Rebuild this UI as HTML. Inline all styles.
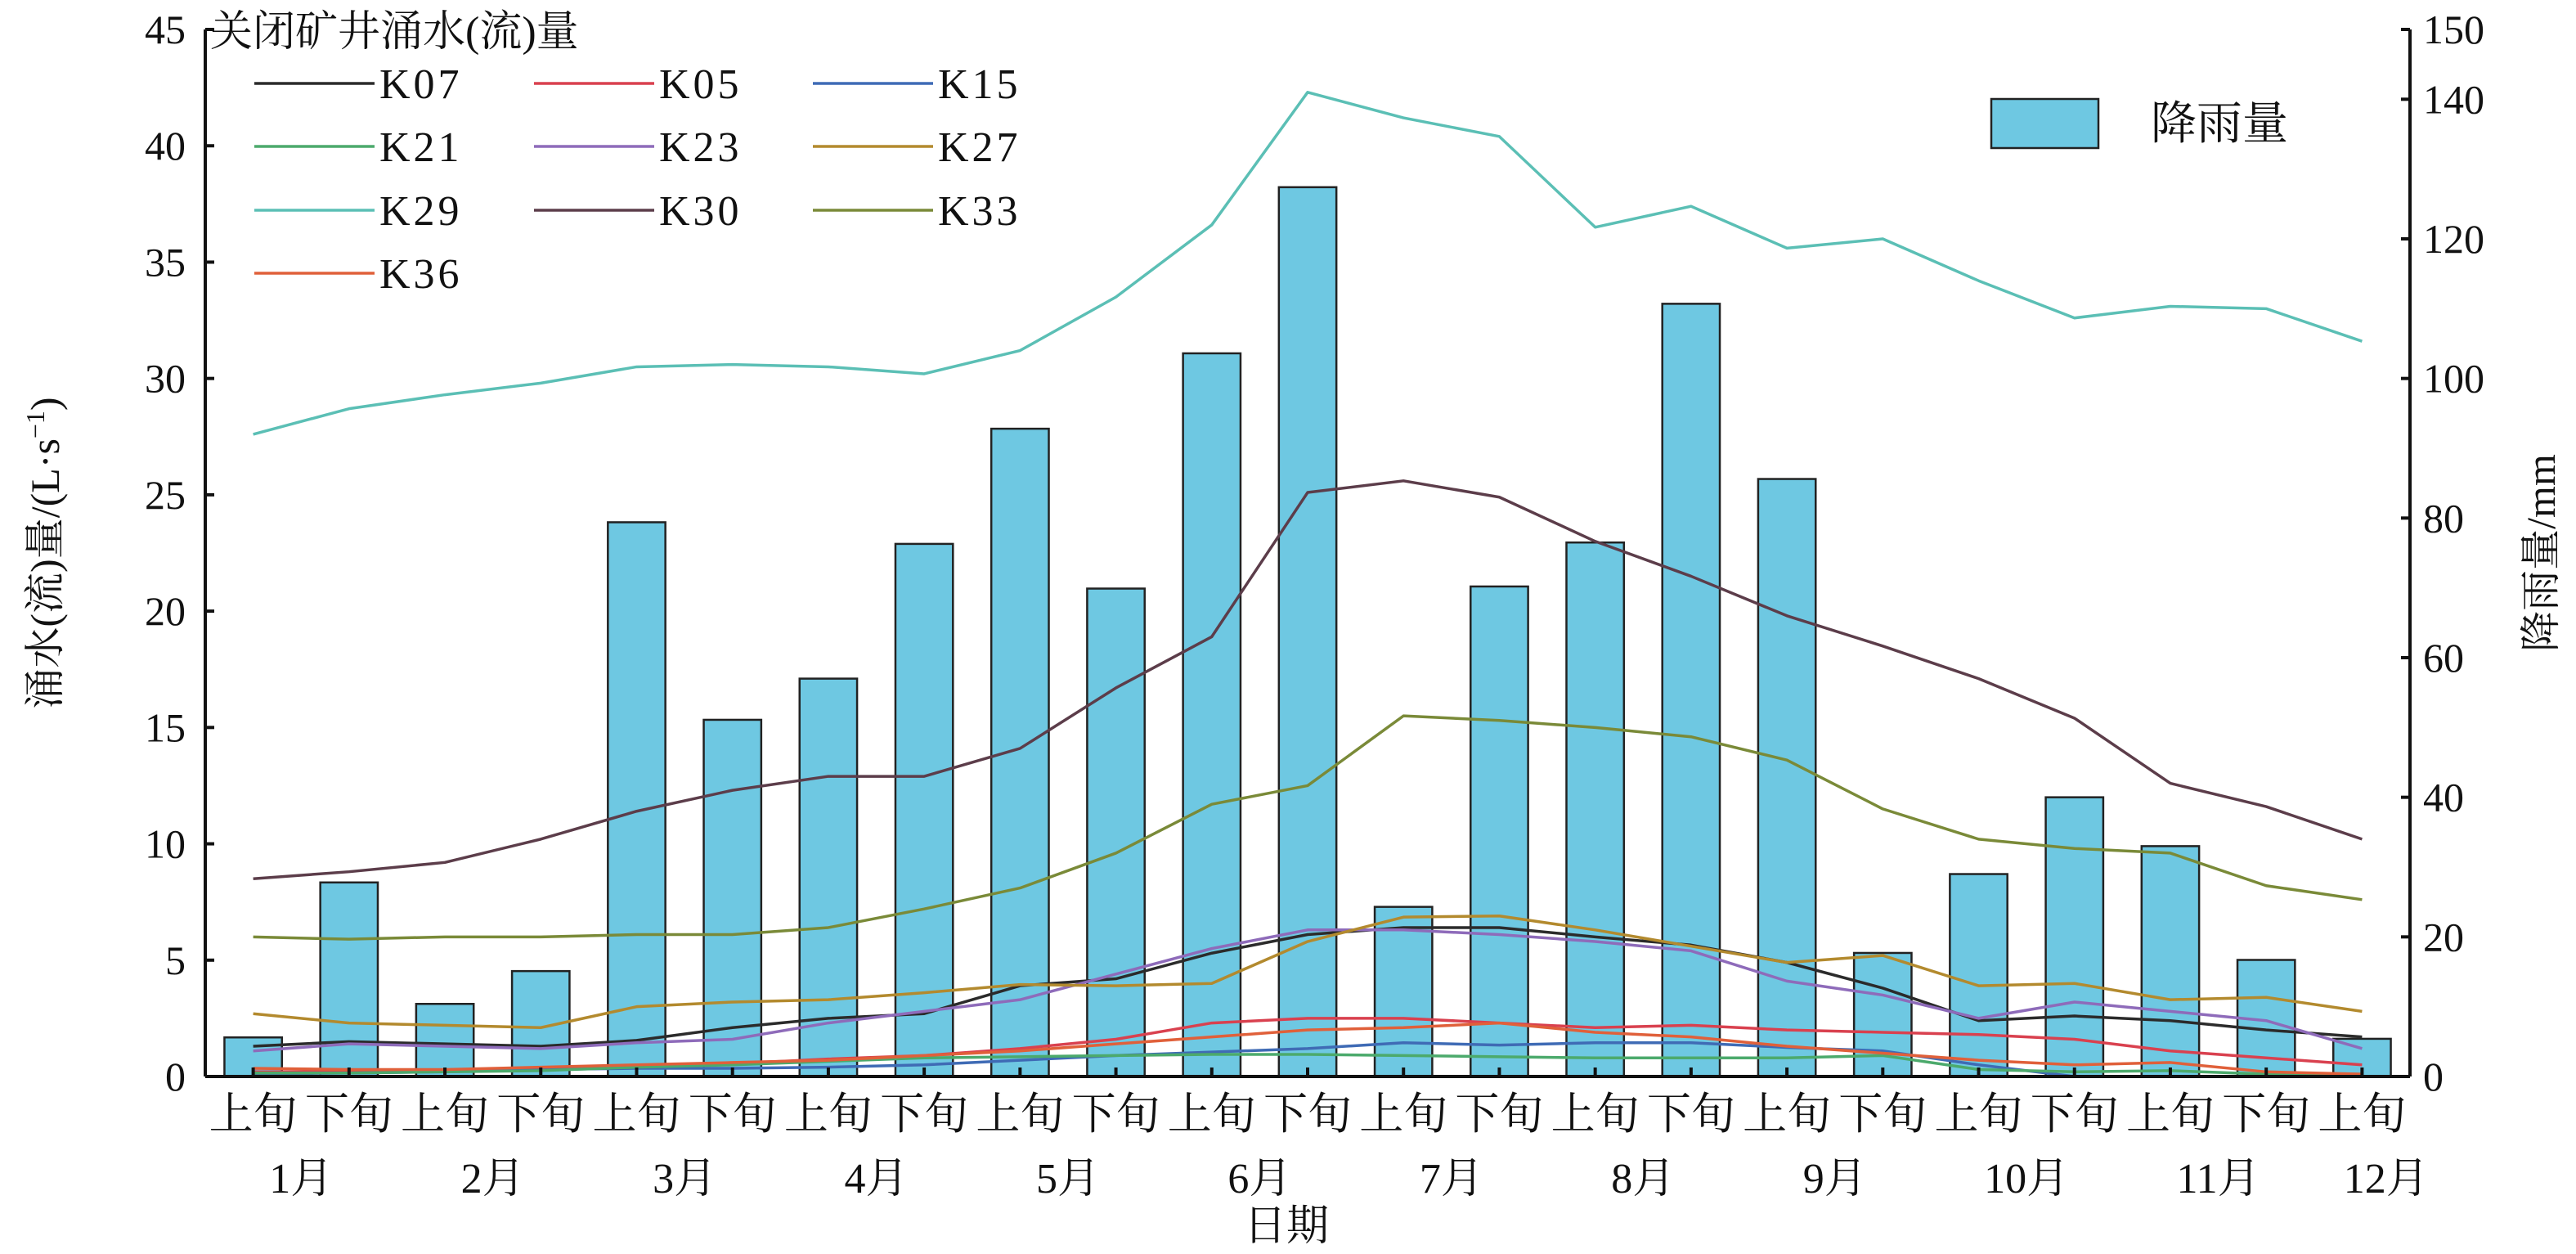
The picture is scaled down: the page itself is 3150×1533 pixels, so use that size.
<!DOCTYPE html>
<html><head><meta charset="utf-8">
<style>
html,body{margin:0;padding:0;background:#fff;}
svg{display:block;}
text{font-family:"Liberation Serif","Noto Serif CJK SC",serif;fill:#111;}
</style></head>
<body>
<svg id="chart" width="3150" height="1533" viewBox="0 0 3150 1533" xmlns="http://www.w3.org/2000/svg"></svg>
<script>
const categories = ["上旬","下旬","上旬","下旬","上旬","下旬","上旬","下旬","上旬","下旬","上旬","下旬","上旬","下旬","上旬","下旬","上旬","下旬","上旬","下旬","上旬","下旬","上旬"];
const months = ["1月","2月","3月","4月","5月","6月","7月","8月","9月","10月","11月","12月"];
const rainfall = [5.6,27.8,10.4,15.1,79.4,51.1,57.0,76.3,92.8,69.9,103.6,127.4,24.3,70.2,76.5,110.7,85.6,17.7,29.0,40.0,33.0,16.7,5.4];
const K07 = [1.3,1.5,1.4,1.3,1.55,2.1,2.5,2.7,3.9,4.2,5.3,6.1,6.4,6.4,6.0,5.65,4.9,3.8,2.4,2.6,2.4,2.0,1.7];
const K05 = [0.2,0.2,0.25,0.35,0.45,0.55,0.75,0.9,1.2,1.6,2.3,2.5,2.5,2.3,2.1,2.2,2.0,1.9,1.8,1.6,1.1,0.8,0.5];
const K15 = [0.1,0.15,0.2,0.3,0.35,0.35,0.4,0.5,0.7,0.9,1.05,1.2,1.45,1.35,1.45,1.45,1.25,1.1,0.5,0.0,0.0,0.0,0.0];
const K21 = [0.15,0.15,0.2,0.25,0.4,0.5,0.65,0.8,0.85,0.9,0.95,0.95,0.9,0.85,0.8,0.8,0.8,0.9,0.3,0.2,0.25,0.1,0.1];
const K23 = [1.1,1.4,1.3,1.2,1.45,1.6,2.3,2.8,3.3,4.4,5.5,6.3,6.3,6.1,5.8,5.4,4.1,3.5,2.5,3.2,2.8,2.4,1.2];
const K27 = [2.7,2.3,2.2,2.1,3.0,3.2,3.3,3.6,3.95,3.9,4.0,5.8,6.85,6.9,6.3,5.6,4.9,5.2,3.9,4.0,3.3,3.4,2.8];
const K29 = [27.6,28.7,29.3,29.8,30.5,30.6,30.5,30.2,31.2,33.5,36.6,42.3,41.2,40.4,36.5,37.4,35.6,36.0,34.2,32.6,33.1,33.0,31.6];
const K30 = [8.5,8.8,9.2,10.2,11.4,12.3,12.9,12.9,14.1,16.7,18.9,25.1,25.6,24.9,23.0,21.5,19.8,18.5,17.1,15.4,12.6,11.6,10.2];
const K33 = [6.0,5.9,6.0,6.0,6.1,6.1,6.4,7.2,8.1,9.6,11.7,12.5,15.5,15.3,15.0,14.6,13.6,11.5,10.2,9.8,9.6,8.2,7.6];
const K36 = [0.35,0.3,0.3,0.4,0.5,0.6,0.7,0.9,1.1,1.4,1.7,2.0,2.1,2.3,1.9,1.7,1.3,1.0,0.7,0.5,0.6,0.2,0.1];
const seriesNames = ["K07","K05","K15","K21","K23","K27","K29","K30","K33","K36"];
const seriesValues = [K07,K05,K15,K21,K23,K27,K29,K30,K33,K36];
const leftTicks = [0,5,10,15,20,25,30,35,40,45];
const rightTicks = [0,20,40,60,80,100,120,140,150];

const colors = ["#2b2b2b","#d9414f","#3f6bb5","#4caa6c","#8e6bba","#b38a2e","#5bbfb5","#5c3d4a","#7a8a38","#e0603a"];
const L=251,R=2947,T=36,B=1316;
const NS="http://www.w3.org/2000/svg";
const svg=document.getElementById('chart');
const band=(R-L)/categories.length;
const xs=i=>L+band*(i+0.5);
const yl=v=>B-(v/45)*(B-T);
const yr=v=>B-(v/150)*(B-T);
function mk(tag,attrs,parent){const e=document.createElementNS(NS,tag);for(const k in attrs)e.setAttribute(k,attrs[k]);(parent||svg).appendChild(e);return e;}

const gb=mk('g',{});


rainfall.forEach((v,i)=>{
  const w=band*0.6;
  const r=mk('rect',{x:xs(i)-w/2,y:yr(v),width:w,height:B-yr(v),fill:"#6ec8e2",stroke:"#222","stroke-width":2.5},gb);
  
  
});
seriesValues.forEach((arr,s)=>{
  const p=mk('polyline',{points:arr.map((v,i)=>xs(i)+","+yl(v)).join(" "),fill:"none",stroke:colors[s],"stroke-width":3.5,"stroke-linejoin":"round"});
  
  
});
const ax=mk('g',{stroke:"#111","stroke-width":4,fill:"none"});


mk('line',{x1:L,y1:T,x2:L,y2:B},ax);
mk('line',{x1:R,y1:T,x2:R,y2:B},ax);
mk('line',{x1:L,y1:B,x2:R,y2:B},ax);
leftTicks.forEach(v=>{
  mk('line',{x1:L,y1:yl(v),x2:L+11,y2:yl(v)},ax);
  const t=mk('text',{x:L-24,y:yl(v)+17,"font-size":50,"text-anchor":"end"});
  t.textContent=v;
  
  
});
rightTicks.forEach(v=>{
  mk('line',{x1:R,y1:yr(v),x2:R-11,y2:yr(v)},ax);
  const t=mk('text',{x:R+16,y:yr(v)+17,"font-size":50,"text-anchor":"start"});
  t.textContent=v;
  
  
});
categories.forEach((c,i)=>{
  mk('line',{x1:xs(i),y1:B,x2:xs(i),y2:B-11},ax);
  const t=mk('text',{x:xs(i),y:1380,"font-size":54,"text-anchor":"middle"});
  t.textContent=c;
  
  
});
months.forEach((m,i)=>{
  const x=i<11?(xs(2*i)+xs(2*i+1))/2:xs(22)+band*0.25;
  const t=mk('text',{x:x,y:1458,"font-size":52,"text-anchor":"middle"});
  t.textContent=m;
  
  
});
let t=mk('text',{x:1573,y:1516,"font-size":52,"text-anchor":"middle"});
t.textContent="日期";


t=mk('text',{x:0,y:0,"font-size":50,"text-anchor":"middle",transform:"translate(72,676) rotate(-90)"});
t.innerHTML='涌水(流)量/(L·s<tspan dy="-18" font-size="32">−1</tspan><tspan dy="18">)</tspan>';


t=mk('text',{x:0,y:0,"font-size":50,"text-anchor":"middle",transform:"translate(3124,676) rotate(-90)"});
t.textContent="降雨量/mm";



const lg=mk('g',{});


t=mk('text',{x:257,y:56,"font-size":52},lg);
t.textContent="关闭矿井涌水(流)量";


const colX=[311,653,994];
const rowY=[102,179,257,334];
seriesNames.forEach((n,s)=>{
  const cx=colX[s%3],cy=rowY[Math.floor(s/3)];
  const g=mk('g',{},lg);
  
  
  mk('line',{x1:cx,y1:cy,x2:cx+147,y2:cy,stroke:colors[s],"stroke-width":3.5},g);
  const tt=mk('text',{x:cx+153,y:cy+18,"font-size":52,"letter-spacing":4},g);
  tt.textContent=n;
});
const rg=mk('g',{});


mk('rect',{x:2435,y:121,width:131,height:60,fill:"#6ec8e2",stroke:"#222","stroke-width":2.5},rg);
t=mk('text',{x:2630,y:170,"font-size":56},rg);
t.textContent="降雨量";
</script>
</body></html>
